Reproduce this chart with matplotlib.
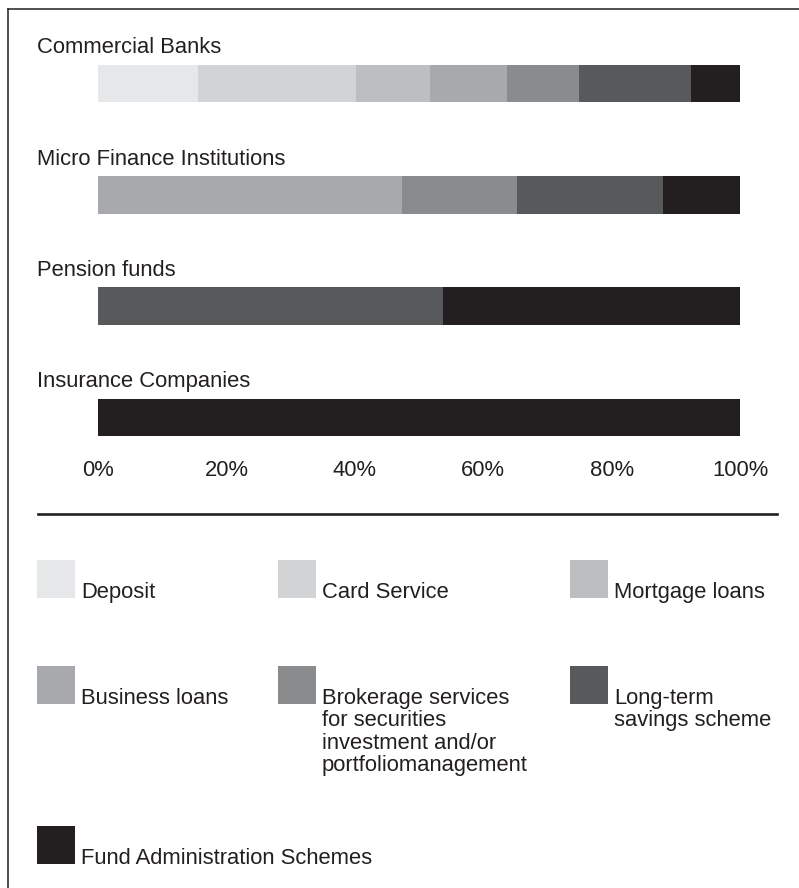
import matplotlib
matplotlib.use('Agg')
import matplotlib.pyplot as plt
from matplotlib.patches import Rectangle
from matplotlib.lines import Line2D
import matplotlib.transforms as mtransforms
import numpy as np

plt.rcParams['font.family'] = ['Liberation Sans', 'DejaVu Sans']

categories = ['Commercial Banks', 'Micro Finance Institutions', 'Pension funds', 'Insurance Companies']
services = ['Deposit', 'Card Service', 'Mortgage loans', 'Business loans',
            'Brokerage services\nfor securities\ninvestment and/or\nportfoliomanagement',
            'Long-term\nsavings scheme', 'Fund Administration Schemes']
colors = ['#e6e7e8', '#d1d3d4', '#bcbec0', '#a7a9ac', '#8a8b8d', '#58595b', '#231f20']

# share of each service per institution type (%)
deposit = [15.6, 0, 0, 0]
card_service = [24.6, 0, 0, 0]
mortgage = [11.5, 0, 0, 0]
business = [12.0, 47.4, 0, 0]
brokerage = [11.2, 17.9, 0, 0]
long_term = [17.5, 22.7, 53.7, 0]
fund_admin = [7.6, 12.0, 46.3, 100]
shares = [deposit, card_service, mortgage, business, brokerage, long_term, fund_admin]

W, H = 799, 888
fig = plt.figure(figsize=(W / 100, H / 100), dpi=100)
FS = 15.8
INK = '#231f20'

def fx(px):
    return px / W

def fy(py):
    return 1 - py / H

# bars axes, pixel layout
ax = fig.add_axes([fx(98), fy(450), fx(740) - fx(98), (450 - 30) / H])
y = np.arange(len(categories))
left = np.zeros(len(categories))
for vals, c in zip(shares, colors):
    ax.barh(y, vals, left=left, height=0.34, color=c, linewidth=0)
    left += np.array(vals)

ax.set_xlim(0, 100)
ax.set_ylim(3.292, -0.481)
ax.set_xticks([0, 20, 40, 60, 80, 100])
ax.set_xticklabels(['0%', '20%', '40%', '60%', '80%', '100%'], fontsize=FS, color=INK)
ax.set_yticks([])
ax.tick_params(axis='x', length=0, pad=7)
for s in ax.spines.values():
    s.set_visible(False)

trans = mtransforms.blended_transform_factory(fig.transFigure, ax.transData)
for i, cat in enumerate(categories):
    ax.text(fx(37), i - 0.32, cat, transform=trans, fontsize=FS, color=INK,
            va='center', ha='left')

# separator and frame
fig.add_artist(Line2D([fx(38), fx(777)], [fy(514), fy(514)], color=INK, lw=1.9))
fig.add_artist(Line2D([fx(8), fx(799)], [fy(9), fy(9)], color=INK, lw=1.1))
fig.add_artist(Line2D([fx(8), fx(8)], [fy(9), fy(888)], color=INK, lw=1.1))

# legend grid
col_x = [37, 278, 570]
row_y = [560, 666, 826]
for k, (lab, c) in enumerate(zip(services, colors)):
    cx = col_x[k % 3]
    ry = row_y[k // 3]
    fig.add_artist(Rectangle((fx(cx), fy(ry + 38)), fx(38), 38 / H,
                             transform=fig.transFigure, color=c, lw=0))
    fig.text(fx(cx + 44), fy(ry + 22), lab, fontsize=FS, color=INK,
             va='top', ha='left', linespacing=1.08)

fig.savefig('out.png', dpi=100)
